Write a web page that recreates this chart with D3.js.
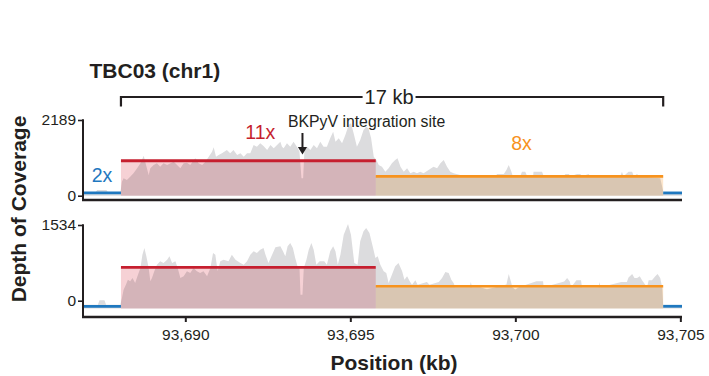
<!DOCTYPE html>
<html><head><meta charset="utf-8">
<script src="https://cdn.jsdelivr.net/npm/d3@7"></script>
<style>
html,body{margin:0;padding:0;background:#fff;}
svg{display:block;font-family:"Liberation Sans",Arial,Helvetica,sans-serif;}
</style></head><body>
<svg id="chart" width="709" height="376"></svg>
<script>
// ---------------- data ----------------
const chartTitle = "TBC03 (chr1)";
const xDomain = [93686.9, 93705.05];
const xTicks = [93690, 93695, 93700, 93705];
const segmentLabels = ["2x", "11x", "8x", ""];
const segmentStart = [93686.9, 93688.05, 93695.77, 93704.48];
const segmentEnd   = [93688.05, 93695.77, 93704.48, 93705.05];
const topLevels    = [80, 1010, 560, 80];
const bottomLevels = [-113, 677, 292, -113];
const yMaxTop = 2189, yMaxBottom = 1534;
const bracketLabel = "17 kb";
const integrationSite = 93693.55;
const integrationLabel = "BKPyV integration site";

const topCoverage = [
[93686.91,78],[93687.27,78],[93687.33,165],[93687.61,165],[93687.67,78],[93688.03,78],
[93688.08,405],[93688.13,503],[93688.23,454],[93688.33,549],[93688.43,648],[93688.54,792],[93688.64,937],[93688.74,1157],[93688.81,888],[93688.89,599],[93688.94,792],[93689.04,888],[93689.14,937],[93689.24,839],[93689.34,937],[93689.45,888],[93689.55,937],[93689.65,983],[93689.75,888],[93689.85,792],[93689.95,937],[93690.05,956],[93690.15,888],[93690.30,1082],[93690.35,1033],[93690.40,937],[93690.51,888],[93690.61,983],[93690.71,1128],[93690.81,1272],[93690.86,1400],[93690.93,1128],[93691.01,1177],[93691.11,1226],[93691.26,1322],[93691.36,1226],[93691.46,1322],[93691.57,1177],[93691.67,1226],[93691.77,1128],[93691.87,1226],[93691.97,1226],[93692.07,1466],[93692.17,1417],[93692.27,1515],[93692.37,1437],[93692.48,1322],[93692.58,1466],[93692.68,1370],[93692.78,1466],[93692.88,1562],[93692.93,1417],[93692.98,1370],[93693.08,1514],[93693.18,1417],[93693.28,1562],[93693.38,1417],[93693.46,1273],[93693.52,503],[93693.57,503],[93693.61,1322],[93693.69,1417],[93693.79,1322],[93693.89,1466],[93693.99,1370],[93694.09,1562],[93694.19,1417],[93694.29,1417],[93694.39,1659],[93694.48,1851],[93694.55,1562],[93694.65,1659],[93694.75,1514],[93694.85,1755],[93694.95,2045],[93695.02,2093],[93695.10,1804],[93695.20,1417],[93695.30,1611],[93695.40,1900],[93695.48,1996],[93695.55,1948],[93695.63,1659],[93695.71,1128],[93695.79,1032],[93695.86,888],[93695.96,839],[93696.06,694],[93696.16,792],[93696.26,937],[93696.36,1032],[93696.43,1081],[93696.52,839],[93696.62,694],[93696.72,792],[93696.82,648],[93696.92,694],[93697.02,648],[93697.12,694],[93697.22,648],[93697.37,743],[93697.52,839],[93697.63,792],[93697.73,937],[93697.83,1032],[93697.93,839],[93698.03,694],[93698.13,648],[93698.33,599],[93698.54,599],[93698.94,578],[93699.04,540],[93699.24,545],[93699.39,565],[93699.45,628],[93699.65,628],[93699.73,743],[93699.80,888],[93699.87,720],[93699.92,580],[93700.15,565],[93700.20,694],[93700.30,694],[93700.36,565],[93700.54,565],[93700.55,694],[93700.81,694],[93700.86,565],[93701.46,565],[93701.52,628],[93701.62,628],[93701.67,565],[93701.87,628],[93701.97,628],[93702.02,565],[93702.22,628],[93702.27,565],[93703.18,565],[93703.23,694],[93703.28,565],[93703.43,694],[93703.54,694],[93703.59,565],[93703.69,628],[93703.74,565],[93704.39,503],[93704.45,260],[93704.49,69],[93705.05,69]
];

const bottomCoverage = [
[93686.91,-80],[93687.35,-80],[93687.40,8],[93687.55,8],[93687.60,-80],[93688.03,-80],
[93688.08,55],[93688.13,223],[93688.20,324],[93688.26,425],[93688.33,393],[93688.40,460],[93688.48,359],[93688.55,494],[93688.64,662],[93688.70,932],[93688.76,1068],[93688.82,899],[93688.89,662],[93688.94,393],[93688.99,460],[93689.06,595],[93689.14,729],[93689.24,798],[93689.34,764],[93689.45,831],[93689.52,899],[93689.60,764],[93689.70,798],[93689.77,662],[93689.85,460],[93689.95,494],[93690.05,595],[93690.15,561],[93690.25,662],[93690.35,595],[93690.45,561],[93690.55,595],[93690.66,494],[93690.76,662],[93690.84,966],[93690.91,932],[93690.98,595],[93691.06,798],[93691.16,831],[93691.31,798],[93691.41,932],[93691.52,831],[93691.67,764],[93691.77,729],[93691.87,798],[93691.97,932],[93692.07,1000],[93692.17,966],[93692.27,1033],[93692.37,1068],[93692.43,932],[93692.52,764],[93692.63,932],[93692.73,1082],
[93692.88,1102],[93692.96,1000],[93693.03,899],[93693.10,1102],[93693.18,1169],[93693.26,1068],[93693.33,865],[93693.40,697],[93693.46,662],[93693.49,122],[93693.55,122],[93693.59,662],[93693.67,831],[93693.74,1033],[93693.82,1169],[93693.89,1033],[93693.97,729],[93694.07,798],[93694.21,798],[93694.29,729],[93694.39,1000],[93694.48,1102],[93694.55,1000],[93694.62,729],[93694.70,932],[93694.80,1337],[93694.93,1554],[93695.02,1337],[93695.12,764],[93695.22,729],[93695.30,1203],[93695.40,1406],[93695.48,1473],[93695.58,1372],[93695.69,1068],[93695.76,865],[93695.83,899],[93695.91,729],[93696.01,595],[93696.09,561],[93696.16,359],[93696.26,527],[93696.36,697],[93696.46,764],[93696.57,595],[93696.64,425],[93696.72,494],[93696.80,393],[93696.87,324],[93696.97,413],[93697.04,324],[93697.32,379],[93697.40,324],[93697.68,379],[93697.78,460],[93697.88,581],[93697.98,561],[93698.06,425],[93698.13,359],[93698.18,271],[93698.62,271],[93698.65,379],[93698.69,271],
[93698.94,271],[93699.14,230],[93699.39,271],[93699.73,330],[93699.80,541],[93699.87,379],[93699.91,271],[93700.00,225],[93700.10,271],[93700.64,393],[93700.84,393],[93700.86,271],[93701.48,390],[93701.57,460],[93701.65,390],[93701.69,271],[93701.85,413],[93701.99,413],[93702.02,271],[93702.52,271],[93702.55,379],[93702.58,271],[93703.21,379],[93703.38,379],[93703.43,470],[93703.54,541],[93703.61,460],[93703.69,460],[93703.77,494],[93703.84,413],[93703.99,271],[93704.04,413],[93704.14,413],[93704.24,494],[93704.31,541],[93704.39,460],[93704.45,271],[93704.48,-93],[93705.05,-93]
];

// ---------------- styles / layout ----------------
const INK = "#231f20";
const lineColors = ["#1f78bf", "#c61f2f", "#f7931e", "#1f78bf"];
const fillColors = [null, "#f6d1d5", "#fce6cd", null];
const grayFill = "#dcdcde";

const svg = d3.select("#chart");
const x = d3.scaleLinear().domain(xDomain).range([83, 682]);

const panels = [
  {cov: topCoverage, levels: topLevels, max: yMaxTop, yMaxPx: 120, yZeroPx: 195.7, basePx: 195.7, axisPx: 200, xTicks: false},
  {cov: bottomCoverage, levels: bottomLevels, max: yMaxBottom, yMaxPx: 225, yZeroPx: 300.7, basePx: 308.5, axisPx: 317, xTicks: true}
];

panels.forEach((p, pi) => {
  const y = d3.scaleLinear().domain([0, p.max]).range([p.yZeroPx, p.yMaxPx]);
  p.y = y;
  const g = svg.append("g").attr("class", "panel" + pi).style("isolation", "isolate");

  // gray coverage
  const area = d3.area().x(d => x(d[0])).y0(p.basePx).y1(d => y(d[1]));
  g.append("path").datum(p.cov).attr("d", area).attr("fill", grayFill);

  // shaded segments (multiply)
  segmentStart.forEach((s, i) => {
    if (!fillColors[i]) return;
    g.append("rect")
      .attr("x", x(s)).attr("width", x(segmentEnd[i]) - x(s))
      .attr("y", y(p.levels[i])).attr("height", p.basePx - y(p.levels[i]))
      .attr("fill", fillColors[i])
      .style("mix-blend-mode", "multiply");
  });

  // level lines
  segmentStart.forEach((s, i) => {
    g.append("line")
      .attr("x1", x(s)).attr("x2", x(segmentEnd[i]))
      .attr("y1", y(p.levels[i])).attr("y2", y(p.levels[i]))
      .attr("stroke", lineColors[i]).attr("stroke-width", i === 2 ? 2.6 : 2.8);
  });

  // y axis
  const ya = d3.axisLeft(y).tickValues([0, p.max]).tickFormat(d3.format("d")).tickSize(5).tickPadding(2);
  const yg = svg.append("g").attr("transform", "translate(83,0)").call(ya);
  yg.select(".domain").remove();
  yg.selectAll(".tick line").attr("stroke", INK).attr("stroke-width", 1.6);
  yg.selectAll(".tick text").attr("fill", INK).style("font-size", "15.5px").style("font-family", '"Liberation Sans",Arial,sans-serif');
  svg.append("line").attr("x1", 83).attr("x2", 83).attr("y1", p.yMaxPx - 0.8).attr("y2", p.axisPx)
    .attr("stroke", INK).attr("stroke-width", 2);

  // x axis
  if (p.xTicks) {
    const xa = d3.axisBottom(x).tickValues(xTicks).tickFormat(d3.format(",")).tickSize(5).tickPadding(7);
    const xg = svg.append("g").attr("transform", `translate(0,${p.axisPx})`).call(xa);
    xg.select(".domain").remove();
    xg.selectAll(".tick line").attr("stroke", INK).attr("stroke-width", 2);
    xg.selectAll(".tick text").attr("fill", INK).style("font-size", "15.5px").style("font-family", '"Liberation Sans",Arial,sans-serif');
  }
  svg.append("line").attr("x1", 82).attr("x2", 682).attr("y1", p.axisPx).attr("y2", p.axisPx)
    .attr("stroke", INK).attr("stroke-width", 2.6);
});

// segment labels (top panel)
const labelDx = [0, 12, 2, 0];
const labelY = [181.7, 139.3, 150, 0];
segmentLabels.forEach((lab, i) => {
  if (!lab) return;
  svg.append("text")
    .attr("x", (x(segmentStart[i]) + x(segmentEnd[i])) / 2 + labelDx[i])
    .attr("y", labelY[i])
    .attr("text-anchor", "middle")
    .attr("fill", lineColors[i])
    .style("font-size", "19.5px")
    .text(lab);
});

// integration site arrow + label
const ax = x(integrationSite);
svg.append("line").attr("x1", ax).attr("x2", ax).attr("y1", 133).attr("y2", 148)
  .attr("stroke", INK).attr("stroke-width", 2);
svg.append("path").attr("d", `M${ax - 4.6},147 L${ax + 4.6},147 L${ax},154.5 Z`).attr("fill", INK);
svg.append("text").attr("x", 288).attr("y", 127.3).attr("fill", INK)
  .style("font-size", "15.8px").text(integrationLabel);

// bracket
const bx1 = x(segmentStart[1]), bx2 = x(segmentEnd[2]);
svg.append("path").attr("d", `M${bx1},106.5 V97 H${bx2} V106.5`)
  .attr("fill", "none").attr("stroke", INK).attr("stroke-width", 2.2);
const bt = svg.append("text").attr("x", (bx1 + bx2) / 2 - 3).attr("y", 104.3)
  .attr("text-anchor", "middle").attr("fill", INK).style("font-size", "20px").text(bracketLabel);
const bb = bt.node().getBBox();
svg.append("rect").attr("x", bb.x - 2).attr("y", 94).attr("width", bb.width + 4).attr("height", 6).attr("fill", "#fff");
bt.raise();

// title and axis titles
svg.append("text").attr("x", 89.5).attr("y", 77.5).attr("fill", INK)
  .style("font-size", "21px").style("font-weight", "bold").text(chartTitle);
svg.append("text").attr("transform", "translate(26,209) rotate(-90)")
  .attr("text-anchor", "middle").attr("fill", INK)
  .style("font-size", "21px").style("font-weight", "bold").text("Depth of Coverage");
svg.append("text").attr("x", 394).attr("y", 370).attr("text-anchor", "middle").attr("fill", INK)
  .style("font-size", "21px").style("font-weight", "bold").text("Position (kb)");
</script>
</body></html>
